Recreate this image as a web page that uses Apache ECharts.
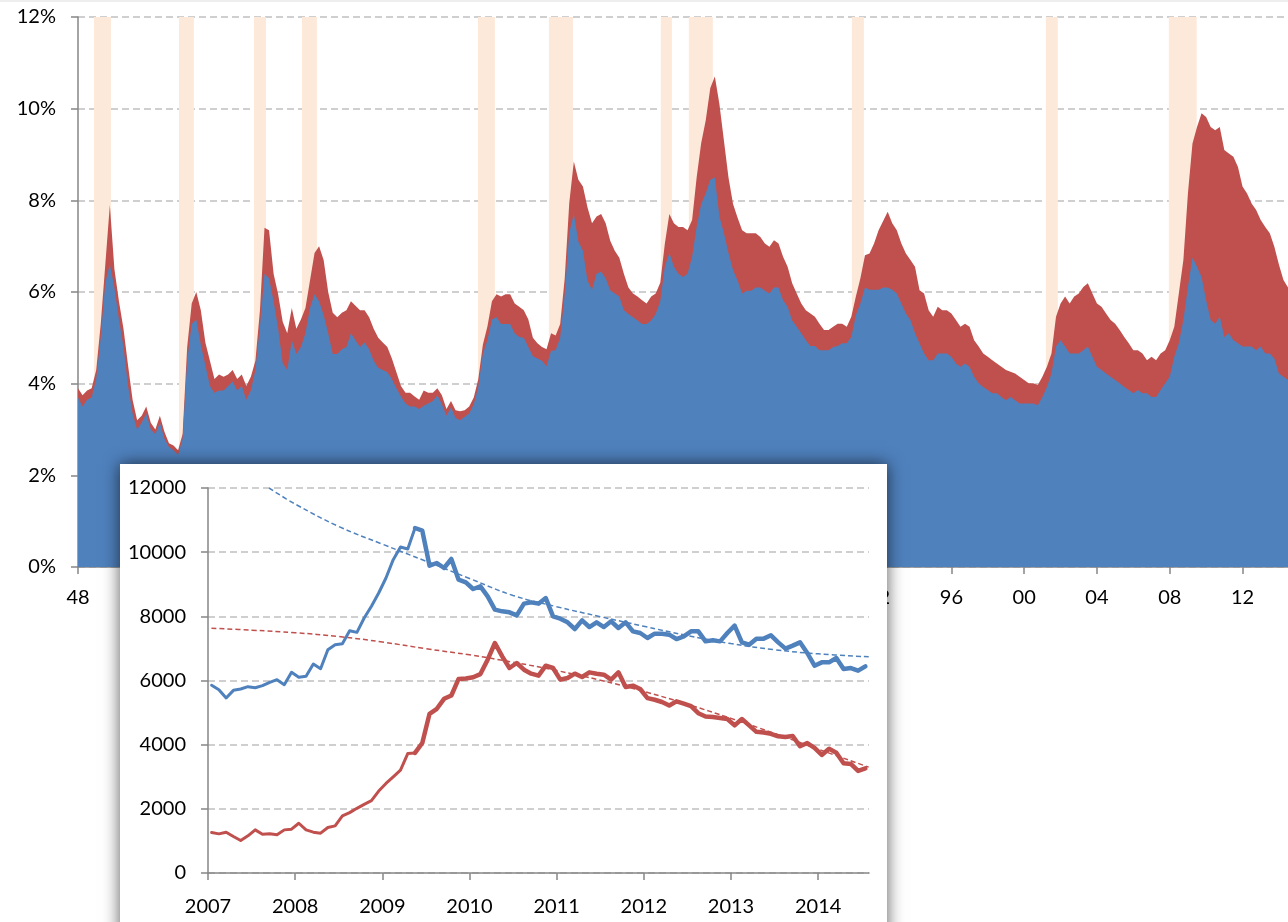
<!DOCTYPE html>
<html><head><meta charset="utf-8">
<script src="https://cdn.jsdelivr.net/npm/echarts@6/dist/echarts.min.js"></script>
<style>html,body{margin:0;padding:0;background:#fff}#c{width:1288px;height:922px}</style>
</head><body><div id="c"></div>
<script>
// ---------- main chart: unemployment rate (%), quarterly readings from 1948.0 ----------
const startYear = 1948;
const stepYears = 0.25;
// top of red area = total unemployment rate
const totalRate = [
3.9,3.75,3.85,3.9, 4.3,5.3,6.6,7.9, 6.5,5.8,5.2,4.4, 3.65,3.2,3.3,3.5,
3.15,3.0,3.3,2.95, 2.7,2.65,2.55,2.9, 4.8,5.75,6.0,5.6, 4.9,4.5,4.1,4.2,
4.15,4.2,4.3,4.1, 4.2,3.95,4.15,4.5, 5.6,7.4,7.35,6.4, 5.95,5.35,5.1,5.65,
5.2,5.4,5.65,6.25, 6.85,7.0,6.7,6.0, 5.55,5.45,5.55,5.6, 5.8,5.7,5.6,5.6,
5.45,5.2,5.0,4.9, 4.8,4.55,4.25,3.95, 3.8,3.8,3.72,3.65, 3.85,3.8,3.8,3.9,
3.75,3.45,3.62,3.42, 3.4,3.42,3.5,3.7, 4.1,4.85,5.25,5.8, 5.95,5.9,5.95,5.95,
5.75,5.68,5.6,5.4, 5.0,4.88,4.8,4.75, 5.1,5.05,5.3,6.3, 7.95,8.85,8.45,8.3,
7.85,7.5,7.65,7.7, 7.5,7.12,6.9,6.75, 6.4,6.1,5.97,5.9, 5.82,5.75,5.9,5.97,
6.2,7.05,7.7,7.5, 7.42,7.42,7.35,7.57, 8.5,9.25,9.75,10.45, 10.7,10.1,9.3,8.5,
7.92,7.62,7.35,7.28, 7.28,7.28,7.2,7.06, 6.99,7.13,7.06,6.77, 6.55,6.19,5.97,5.75,
5.6,5.53,5.46,5.31, 5.17,5.17,5.24,5.31, 5.31,5.24,5.46,5.9, 6.3,6.8,6.84,7.06,
7.35,7.55,7.75,7.5, 7.35,7.06,6.84,6.7, 6.55,6.04,5.97,5.6, 5.46,5.68,5.6,5.6,
5.53,5.39,5.24,5.31, 5.24,4.95,4.81,4.66, 4.59,4.51,4.44,4.37, 4.3,4.26,4.22,4.15,
4.08,4.01,4.01,3.97, 4.15,4.37,4.66,5.46, 5.75,5.9,5.75,5.9, 5.97,6.11,6.19,5.97,
5.75,5.68,5.53,5.39, 5.31,5.17,5.02,4.88, 4.73,4.73,4.66,4.51, 4.59,4.51,4.66,4.73,
4.95,5.24,5.97,6.7, 8.15,9.24,9.6,9.9, 9.82,9.6,9.53,9.6, 9.1,9.02,8.95,8.73,
8.3,8.15,7.93,7.79, 7.57,7.42,7.28,6.99, 6.6,6.26,6.1
];
// top of blue area = short-term unemployment rate
const shortRate = [
3.7,3.5,3.65,3.7, 4.1,5.0,6.2,6.6, 6.1,5.4,4.8,3.95, 3.35,3.0,3.15,3.35,
3.0,2.9,3.15,2.8, 2.62,2.55,2.45,2.8, 4.5,5.3,5.4,4.85, 4.4,3.95,3.8,3.85,
3.85,3.95,4.05,3.85, 3.95,3.65,3.85,4.3, 5.25,6.4,6.3,5.8, 5.2,4.45,4.3,4.95,
4.65,4.8,5.1,5.65, 5.95,5.8,5.5,5.1, 4.65,4.65,4.75,4.8, 5.1,4.95,4.8,4.9,
4.75,4.5,4.35,4.3, 4.25,4.1,3.9,3.72, 3.57,3.5,3.5,3.45, 3.52,3.57,3.62,3.75,
3.55,3.3,3.48,3.25, 3.2,3.28,3.35,3.55, 3.93,4.65,4.95,5.4, 5.45,5.3,5.3,5.3,
5.1,5.02,5.0,4.8, 4.6,4.55,4.5,4.38, 4.72,4.73,5.0,5.95, 7.3,7.7,7.1,6.9,
6.25,6.05,6.4,6.45, 6.3,6.04,5.97,5.9, 5.6,5.52,5.45,5.38, 5.3,5.3,5.38,5.52,
5.8,6.55,6.85,6.55, 6.4,6.33,6.4,6.77, 7.42,7.92,8.15,8.45, 8.5,7.65,7.28,6.85,
6.48,6.25,5.97,6.03, 6.03,6.1,6.1,6.03, 5.97,6.1,6.1,5.82, 5.68,5.38,5.24,5.1,
4.95,4.82,4.82,4.73, 4.73,4.73,4.8,4.82, 4.88,4.88,5.02,5.5, 5.75,6.1,6.05,6.05,
6.05,6.1,6.1,6.05, 5.97,5.75,5.53,5.39, 5.1,4.88,4.66,4.51, 4.51,4.66,4.66,4.66,
4.59,4.44,4.37,4.44, 4.37,4.15,4.01,3.93, 3.86,3.79,3.79,3.71, 3.64,3.71,3.64,3.57,
3.57,3.57,3.57,3.53, 3.71,3.93,4.22,4.81, 4.95,4.81,4.66,4.66, 4.66,4.73,4.81,4.59,
4.37,4.3,4.22,4.15, 4.08,4.01,3.93,3.86, 3.79,3.86,3.79,3.79, 3.71,3.71,3.86,4.01,
4.15,4.59,4.88,5.39, 6.11,6.75,6.55,6.33, 5.82,5.39,5.31,5.46, 5.02,5.1,4.95,4.88,
4.81,4.81,4.81,4.73, 4.81,4.66,4.66,4.55, 4.22,4.15,4.08
];
// recessions [start, end] in decimal years
const recessions = [
[1948.88,1949.81],[1953.55,1954.37],[1957.67,1958.33],[1960.31,1961.13],
[1969.98,1970.91],[1973.88,1975.2],[1980.03,1980.64],[1981.57,1982.89],
[1990.53,1991.19],[2001.19,2001.85],[2007.95,2009.48]
];
const mainTickYears = [1948,1952,1956,1960,1964,1968,1972,1976,1980,1984,1988,1992,1996,2000,2004,2008,2012];

// ---------- inset: thousands of unemployed, monthly from Jan 2007 ----------
const insetStartYear = 2007;
const insetShort = [
5850,5714,5455,5693,5735,5808,5776,5839,5943,6026,5870,6255,
6099,6130,6514,6369,6961,7117,7148,7553,7501,7948,8312,8727,
9195,9766,10161,10099,10753,10670,9579,9662,9506,9787,9143,9060,
8852,8935,8623,8208,8156,8125,8031,8395,8436,8395,8571,8000,
7927,7813,7605,7875,7667,7813,7667,7844,7636,7813,7532,7480,
7325,7460,7460,7428,7293,7376,7532,7532,7220,7252,7220,7480,
7709,7189,7117,7304,7304,7408,7189,6992,7086,7189,6857,6462,
6566,6566,6701,6358,6389,6306,6441
];
const insetLong = [
1261,1220,1272,1137,1013,1158,1344,1210,1220,1189,1344,1365,
1551,1344,1272,1241,1417,1468,1778,1882,2016,2140,2254,2554,
2792,2999,3205,3722,3743,4053,4963,5118,5429,5532,6050,6060,
6100,6200,6650,7169,6753,6390,6545,6338,6213,6150,6462,6390,
6026,6078,6213,6109,6254,6213,6182,6026,6254,5797,5839,5735,
5450,5400,5330,5220,5350,5280,5200,4980,4880,4860,4830,4800,
4600,4800,4600,4400,4380,4340,4260,4240,4270,3950,4050,3900,
3680,3870,3750,3420,3400,3180,3260
];
const insetTickYears = [2007,2008,2009,2010,2011,2012,2013,2014];
const insetRecession = [2008.0, 2009.5];
const thickFromMonth = 28;
const blueTrend = [
[2007.7,12000],[2008.0,11500],[2008.5,10800],[2009.0,10250],[2009.5,9720],[2010.0,9180],
[2010.5,8650],[2011.0,8300],[2011.5,7990],[2012.0,7690],[2012.5,7400],[2013.0,7150],
[2013.5,6960],[2014.0,6830],[2014.58,6740]
];
const redTrend = [
[2007.04,7630],[2007.5,7570],[2008.0,7490],[2008.5,7370],[2009.0,7200],[2009.5,6990],
[2010.0,6800],[2010.5,6570],[2011.0,6310],[2011.5,6010],[2012.0,5660],[2012.5,5260],
[2013.0,4820],[2013.5,4350],[2014.0,3860],[2014.58,3300]
];

// ---------- build ----------
const FONT = 'Lato, "Liberation Sans", sans-serif';
const BLUE = '#4f81bd', RED = '#c0504d', BAND = '#fde9d9', AX = '#868686', GRID = '#c0c0c0';
const qx = i => startYear + i * stepYears;
const mx = i => insetStartYear + (i + 0.5) / 12;
const totalData = totalRate.map((v, i) => [qx(i), v]);
const shortData = shortRate.map((v, i) => [qx(i), v]);
const insShortData = insetShort.map((v, i) => [mx(i), v]);
const insLongData = insetLong.map((v, i) => [mx(i), v]);

const chart = echarts.init(document.getElementById('c'), null, {renderer: 'canvas'});
const labelStyle = {fontSize: 20, color: '#000', fontFamily: FONT};

chart.setOption({
  animation: false,
  backgroundColor: '#fff',
  grid: [
    {left: 78, right: 0, top: 17, bottom: 355},
    {left: 208, right: 419, top: 488, bottom: 49}
  ],
  xAxis: [
    {gridIndex: 0, type: 'value', min: 1948, max: 2014.5, z: 0,
     axisLine: {show: true, lineStyle: {color: AX, width: 1.5}},
     axisTick: {show: true, customValues: mainTickYears, length: 7, lineStyle: {color: AX, width: 1.5}},
     axisLabel: Object.assign({customValues: mainTickYears, margin: 21,
       formatter: v => String(v).slice(2)}, labelStyle),
     splitLine: {show: false}},
    {gridIndex: 1, type: 'value', min: 2007, max: 2007 + 91 / 12, z: 52,
     axisLine: {show: true, lineStyle: {color: AX, width: 1.5}},
     axisTick: {show: true, customValues: insetTickYears, length: 7, lineStyle: {color: AX, width: 1.5}},
     axisLabel: Object.assign({customValues: insetTickYears, margin: 24,
       formatter: v => String(v)}, labelStyle),
     splitLine: {show: false}}
  ],
  yAxis: [
    {gridIndex: 0, type: 'value', min: 0, max: 12, interval: 2, z: 0,
     axisLine: {show: true, lineStyle: {color: AX, width: 1.5}},
     axisTick: {show: true, length: 7, lineStyle: {color: AX, width: 1.5}},
     axisLabel: Object.assign({formatter: '{value}%', margin: 22}, labelStyle),
     splitLine: {show: true, lineStyle: {color: GRID, width: 1.5, type: [7, 4]}}},
    {gridIndex: 1, type: 'value', min: 0, max: 12000, interval: 2000, z: 52,
     axisLine: {show: true, lineStyle: {color: AX, width: 1.5}},
     axisTick: {show: true, length: 7, lineStyle: {color: AX, width: 1.5}},
     axisLabel: Object.assign({margin: 22, formatter: v => String(v)}, labelStyle),
     splitLine: {show: true, lineStyle: {color: GRID, width: 1.5, type: [7, 4]}}}
  ],
  graphic: [
    {type: 'rect', z: 100, shape: {x: 0, y: 0, width: 1288, height: 2}, style: {fill: '#eeeeee'}},
    {type: 'rect', z: 50, shape: {x: 120, y: 464, width: 767, height: 480},
     style: {fill: '#ffffff', shadowBlur: 16, shadowColor: 'rgba(0,0,0,0.65)'}}
  ],
  series: [
    {type: 'line', xAxisIndex: 0, yAxisIndex: 0, data: [], z: 1, silent: true,
     markArea: {silent: true, itemStyle: {color: BAND},
       data: recessions.map(r => [{xAxis: r[0]}, {xAxis: r[1]}])}},
    {type: 'line', xAxisIndex: 0, yAxisIndex: 0, data: totalData, z: 2, symbol: 'none', silent: true,
     lineStyle: {width: 0}, areaStyle: {color: RED, opacity: 1}},
    {type: 'line', xAxisIndex: 0, yAxisIndex: 0, data: shortData, z: 3, symbol: 'none', silent: true,
     lineStyle: {width: 0}, areaStyle: {color: BLUE, opacity: 1}},

    {type: 'line', xAxisIndex: 1, yAxisIndex: 1, data: [], z: 55, silent: true,
     markArea: {silent: true, itemStyle: {color: BAND},
       data: [[{xAxis: insetRecession[0]}, {xAxis: insetRecession[1]}]]}},
    {type: 'line', xAxisIndex: 1, yAxisIndex: 1, z: 60, symbol: 'none', silent: true,
     data: insShortData.slice(0, thickFromMonth + 1),
     lineStyle: {color: BLUE, width: 3, join: 'round', cap: 'round'}},
    {type: 'line', xAxisIndex: 1, yAxisIndex: 1, z: 60, symbol: 'none', silent: true,
     data: insShortData.slice(thickFromMonth),
     lineStyle: {color: BLUE, width: 4.5, join: 'round', cap: 'round'}},
    {type: 'line', xAxisIndex: 1, yAxisIndex: 1, z: 60, symbol: 'none', silent: true,
     data: insLongData.slice(0, thickFromMonth + 1),
     lineStyle: {color: RED, width: 3, join: 'round', cap: 'round'}},
    {type: 'line', xAxisIndex: 1, yAxisIndex: 1, z: 60, symbol: 'none', silent: true,
     data: insLongData.slice(thickFromMonth),
     lineStyle: {color: RED, width: 4.5, join: 'round', cap: 'round'}},
    {type: 'line', xAxisIndex: 1, yAxisIndex: 1, z: 61, symbol: 'none', silent: true, smooth: 0.4,
     data: blueTrend, lineStyle: {color: BLUE, width: 1.5, type: [5, 3]}},
    {type: 'line', xAxisIndex: 1, yAxisIndex: 1, z: 61, symbol: 'none', silent: true, smooth: 0.4,
     data: redTrend, lineStyle: {color: RED, width: 1.5, type: [5, 3]}}
  ]
});
</script></body></html>
